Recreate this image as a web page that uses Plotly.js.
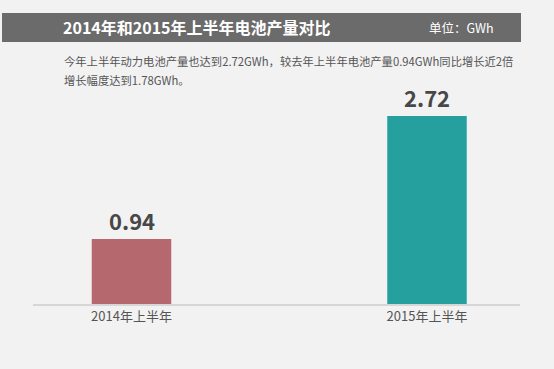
<!DOCTYPE html>
<html>
<head>
<meta charset="utf-8">
<script src="https://cdn.plot.ly/plotly-3.0.1.min.js"></script>
<style>html,body{margin:0;padding:0;background:#f2f2f2;}#chart{width:554px;height:369px;}</style>
</head>
<body>
<div id="chart"></div>
<script>
const categories = ["2014年上半年", "2015年上半年"];
const values = [0.94, 2.72];
const barColors = ["#b5686d", "#26a09e"];
const titleText = "2014年和2015年上半年电池产量对比";
const unitText = "单位：GWh";
const noteLines = [
  "今年上半年动力电池产量也达到2.72GWh，较去年上半年电池产量0.94GWh同比增长近2倍",
  "增长幅度达到1.78GWh。"
];

const W = 554, H = 369;
const L = 33, R = 520, T = 50, B = 304;
const pw = R - L, ph = B - T;
const px = x => (x - L) / pw;
const py = y => (B - y) / ph;
const FONT = "'Noto Sans CJK SC', 'Microsoft YaHei', sans-serif";
const spacing = 295.5, c0 = 131.5;

const trace = {
  type: "bar",
  x: categories,
  y: values,
  width: 79.5 / spacing,
  marker: {color: barColors, line: {width: 0}},
  hoverinfo: "none"
};

const annotations = values.map((v, i) => ({
  x: categories[i], y: v, xref: "x", yref: "y",
  text: "<b>" + v.toFixed(2) + "</b>",
  showarrow: false, yanchor: "bottom", xanchor: "center", yshift: 1,
  font: {family: FONT, size: 22, color: "#474747"}
}));
annotations.push({
  xref: "paper", yref: "paper", x: px(427), y: py(28), xanchor: "left", yanchor: "middle",
  text: unitText, showarrow: false, font: {family: FONT, size: 12.5, color: "#ffffff"}
});
noteLines.forEach((t, i) => annotations.push({
  xref: "paper", yref: "paper", x: px(62), y: py(61 + i * 19), xanchor: "left", yanchor: "middle",
  text: t, showarrow: false, font: {family: FONT, size: 11.3, color: "#555555"}
}));

const layout = {
  width: W, height: H,
  paper_bgcolor: "#f2f2f2", plot_bgcolor: "#f2f2f2",
  margin: {l: L, r: W - R, t: T, b: H - B, pad: 0},
  showlegend: false,
  title: {
    text: "<b>" + titleText + "</b>",
    x: 63 / W, xanchor: "left", xref: "container",
    y: 1 - 28 / H, yanchor: "middle", yref: "container",
    font: {family: FONT, size: 16, color: "#ffffff"}
  },
  xaxis: {
    type: "category",
    range: [-(c0 - L) / spacing, (R - c0) / spacing],
    showline: true, linecolor: "#d6d6d6", linewidth: 1.5,
    showgrid: false, zeroline: false, ticks: "",
    tickfont: {family: FONT, size: 13, color: "#555555"},
    fixedrange: true
  },
  yaxis: {
    range: [0, ph / 69.1],
    visible: false, showgrid: false, zeroline: false, fixedrange: true
  },
  shapes: [{
    type: "rect", xref: "paper", yref: "paper", layer: "below",
    x0: px(2), x1: px(521), y0: py(42), y1: py(13),
    fillcolor: "#6b6b6b", line: {width: 0}
  }],
  annotations: annotations
};

Plotly.newPlot("chart", [trace], layout, {displayModeBar: false, staticPlot: true});
</script>
</body>
</html>
